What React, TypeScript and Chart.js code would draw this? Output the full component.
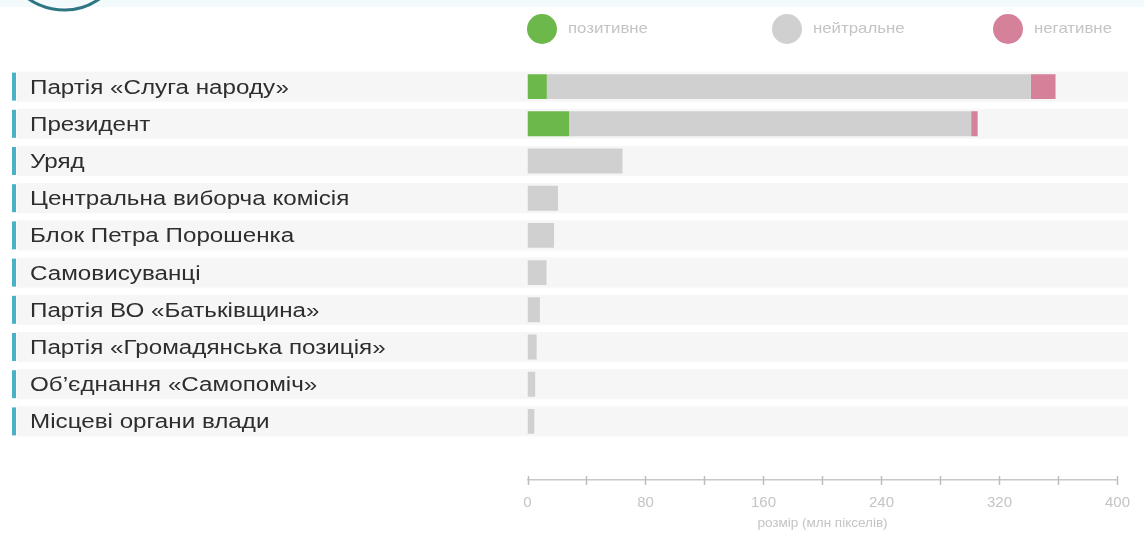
import React, { useEffect, useRef } from 'react';
import { Chart, registerables } from 'chart.js';

Chart.register(...registerables);

const categories = [
  'Партія «Слуга народу»',
  'Президент',
  'Уряд',
  'Центральна виборча комісія',
  'Блок Петра Порошенка',
  'Самовисуванці',
  'Партія ВО «Батьківщина»',
  'Партія «Громадянська позиція»',
  'Об’єднання «Самопоміч»',
  'Місцеві органи влади',
];
const positive = [13.1, 28.2, 0, 0, 0, 0, 0, 0, 0, 0];
const neutral = [328.1, 272.6, 64.4, 20.7, 18.0, 12.9, 8.4, 6.2, 5.2, 4.6];
const negative = [16.8, 4.4, 0, 0, 0, 0, 0, 0, 0, 0];
const seriesLabels = ['позитивне', 'нейтральне', 'негативне'];
const seriesColors = ['#6db84b', '#d0d0d0', '#d6819a'];
const labeledTicks = [0, 80, 160, 240, 320, 400];
const axisTitle = 'розмір (млн пікселів)';

const FONT = "'Liberation Sans', Arial, sans-serif";
const AXIS_POS = 10.575; // position of x axis in category units
const LEGEND_X = [542, 787, 1008];
const LEGEND_Y = 29;
const LABEL_STRETCH = 1.21;

const decor = {
  id: 'decor',
  beforeDraw(chart: any) {
    const { ctx, scales } = chart;
    const y = scales.y;
    if (!y.__stretched) {
      const orig = y.drawLabels.bind(y);
      y.drawLabels = (area: any) => {
        ctx.save();
        ctx.translate(y.left, 1.5);
        ctx.scale(LABEL_STRETCH, 1);
        ctx.translate(-y.left, 0);
        orig(area);
        ctx.restore();
      };
      y.__stretched = true;
    }
    ctx.save();
    ctx.fillStyle = '#f2fafc';
    ctx.fillRect(0, 0, chart.width, 7);
    ctx.strokeStyle = '#2f7684';
    ctx.lineWidth = 3;
    ctx.beginPath();
    ctx.arc(64, -52, 62, 0.2, Math.PI - 0.2);
    ctx.stroke();
    categories.forEach((_, i) => {
      const cy = y.getPixelForValue(i);
      ctx.fillStyle = '#f6f6f6';
      ctx.fillRect(17, cy - 15, 1128 - 17, 30);
      ctx.fillStyle = '#4bb1c6';
      ctx.fillRect(12, cy - 14, 4, 28);
    });
    // legend
    chart.data.datasets.forEach((ds: any, i: number) => {
      ctx.fillStyle = ds.backgroundColor;
      ctx.beginPath();
      ctx.arc(LEGEND_X[i], LEGEND_Y, 15, 0, Math.PI * 2);
      ctx.fill();
      ctx.save();
      const tx = LEGEND_X[i] + 26;
      ctx.translate(tx, LEGEND_Y);
      ctx.scale(1.12, 1);
      ctx.fillStyle = '#c4c4c4';
      ctx.font = `15px ${FONT}`;
      ctx.textBaseline = 'middle';
      ctx.textAlign = 'left';
      ctx.fillText(ds.label, 0, 0);
      ctx.restore();
    });
    ctx.restore();
  },
  afterDraw(chart: any) {
    const { ctx, scales } = chart;
    const x = scales.x;
    const ay = Math.round(scales.y.getPixelForValue(AXIS_POS));
    ctx.save();
    ctx.strokeStyle = '#bdbdbd';
    ctx.lineWidth = 1.5;
    x.ticks.forEach((t: any) => {
      const px = Math.round(x.getPixelForValue(t.value)) + 0.5;
      ctx.beginPath();
      ctx.moveTo(px, ay - 4);
      ctx.lineTo(px, ay + 5);
      ctx.stroke();
    });
    ctx.restore();
  },
};

export default function App() {
  const ref = useRef<HTMLCanvasElement>(null);
  useEffect(() => {
    const chart = new Chart(ref.current!, {
      type: 'bar',
      data: {
        labels: categories,
        datasets: [
          { label: seriesLabels[0], data: positive, backgroundColor: seriesColors[0] },
          { label: seriesLabels[1], data: neutral, backgroundColor: seriesColors[1] },
          { label: seriesLabels[2], data: negative, backgroundColor: seriesColors[2] },
        ],
      },
      options: {
        indexAxis: 'y',
        animation: false,
        responsive: true,
        maintainAspectRatio: false,
        layout: { padding: { left: 30, top: 68, right: 21, bottom: 99 } },
        datasets: { bar: { categoryPercentage: 1, barPercentage: 0.67 } },
        plugins: { legend: { display: false }, tooltip: { enabled: false } },
        scales: {
          x: {
            type: 'linear',
            stacked: true,
            min: 0,
            max: 400,
            position: { y: AXIS_POS } as any,
            grid: { display: false, drawTicks: false },
            border: { display: true, color: '#c8c8c8', width: 1.5 },
            ticks: {
              stepSize: 40,
              autoSkip: false,
              maxRotation: 0,
              padding: 14,
              color: '#c4c4c4',
              font: { size: 15, family: FONT },
              callback: (v: any) => (labeledTicks.includes(Number(v)) ? String(v) : ''),
            },
            title: {
              display: true,
              text: axisTitle,
              color: '#c4c4c4',
              font: { size: 13.5, family: FONT },
              padding: { top: -11, bottom: 0 },
            },
          },
          y: {
            type: 'category',
            stacked: true,
            offset: true,
            grid: { display: false },
            border: { display: false },
            ticks: {
              crossAlign: 'far',
              autoSkip: false,
              color: '#2e2e2e',
              font: { size: 20, family: FONT },
            },
            afterFit: (s: any) => {
              s.width = 527.5 - 30;
            },
          },
        },
      },
      plugins: [decor],
    });
    return () => chart.destroy();
  }, []);
  return (
    <div style={{ position: 'fixed', left: 0, top: 0, width: 1144, height: 539, background: '#fff' }}>
      <canvas ref={ref} />
    </div>
  );
}
